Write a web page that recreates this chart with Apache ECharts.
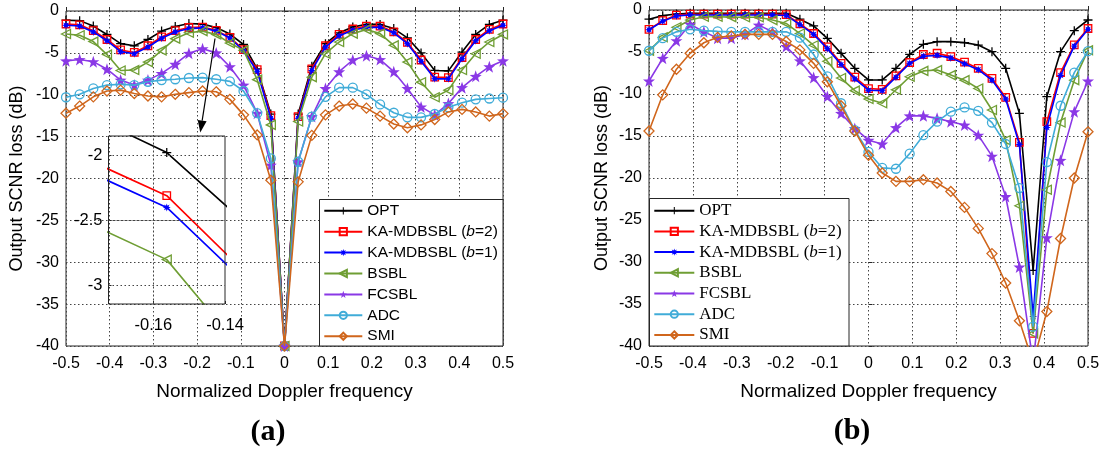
<!DOCTYPE html>
<html><head><meta charset="utf-8">
<script src="https://cdn.jsdelivr.net/npm/echarts@6/dist/echarts.min.js"></script>
<style>html,body{margin:0;padding:0;background:#fff}#c{width:1104px;height:451px}</style>
</head><body><div id="c"></div>
<script>
// ---------------- data ----------------
const freq = [-0.5,-0.46875,-0.4375,-0.40625,-0.375,-0.34375,-0.3125,-0.28125,-0.25,-0.21875,-0.1875,-0.15625,-0.125,-0.09375,-0.0625,-0.03125,0,0.03125,0.0625,0.09375,0.125,0.15625,0.1875,0.21875,0.25,0.28125,0.3125,0.34375,0.375,0.40625,0.4375,0.46875,0.5];
const names = ['OPT','KA-MDBSBL (b=2)','KA-MDBSBL (b=1)','BSBL','FCSBL','ADC','SMI'];

// (a)
const a_OPT   = [-1.1,-1.15,-1.8,-2.8,-3.9,-4.15,-3.4,-2.4,-1.85,-1.5,-1.57,-1.98,-2.75,-4.0,-6.9,-12.3,-40,-12.3,-6.6,-3.9,-2.6,-1.9,-1.6,-1.6,-2.1,-3.2,-5.0,-7.1,-7.15,-4.9,-2.8,-1.6,-1.1];
const a_KA2   = [-1.55,-1.65,-2.35,-3.4,-4.65,-4.95,-4.15,-3.1,-2.35,-1.97,-1.92,-2.31,-3.15,-4.6,-7.0,-12.5,-40,-12.6,-6.9,-4.15,-2.8,-2.15,-1.8,-1.8,-2.5,-3.75,-5.85,-7.9,-7.95,-5.55,-3.4,-2.2,-1.55];
const a_KA1   = [-1.7,-1.8,-2.5,-3.55,-4.85,-5.1,-4.3,-3.25,-2.5,-2.1,-2.01,-2.4,-3.22,-4.75,-7.2,-12.8,-40,-12.8,-7.1,-4.3,-2.95,-2.3,-1.95,-1.95,-2.6,-3.9,-6.0,-8.1,-8.1,-5.7,-3.55,-2.35,-1.7];
const a_BSBL  = [-2.75,-2.9,-3.65,-5.2,-7.1,-7.05,-6.1,-4.7,-3.3,-2.6,-2.4,-2.8,-3.83,-4.7,-8.2,-13.6,-40,-13.2,-7.9,-5.1,-3.7,-2.7,-2.2,-2.7,-4.1,-6.1,-8.5,-10.3,-9.45,-7.05,-5.1,-3.7,-2.8];
const a_FCSBL = [-5.95,-5.8,-6.05,-6.95,-8.25,-8.85,-8.25,-7.45,-6.35,-5.05,-4.5,-5.0,-6.65,-8.85,-12.2,-18.4,-40,-18.0,-12.6,-9.25,-7.25,-5.85,-5.35,-5.8,-7.25,-9.25,-11.45,-12.4,-11.05,-9.15,-7.8,-6.65,-5.95];
const a_ADC   = [-10.3,-9.95,-9.25,-8.85,-8.75,-8.85,-8.45,-8.25,-8.15,-8.0,-7.95,-8.15,-8.4,-9.55,-12.2,-17.6,-40,-18.0,-12.6,-10.25,-9.15,-9.15,-9.95,-11.15,-12.15,-12.7,-12.7,-12.3,-11.5,-10.95,-10.55,-10.45,-10.35];
const a_SMI   = [-12.2,-11.35,-10.25,-9.55,-9.45,-9.85,-10.15,-10.25,-9.95,-9.75,-9.55,-9.65,-10.55,-12.4,-14.8,-20.2,-40,-20.4,-14.85,-12.4,-11.35,-11.1,-11.6,-12.55,-13.5,-13.95,-13.6,-12.95,-12.05,-11.75,-12.05,-12.55,-12.25];

// (b)
const b_OPT   = [-1.1,-0.67,-0.48,-0.4,-0.4,-0.4,-0.4,-0.4,-0.4,-0.4,-0.4,-1.1,-1.9,-3.37,-5.16,-6.94,-8.33,-8.33,-6.94,-5.28,-4.09,-3.77,-3.77,-3.88,-4.17,-4.96,-6.94,-12.3,-31,-10.3,-4.96,-2.46,-1.19];
const b_KA2   = [-2.3,-1.27,-0.6,-0.5,-0.5,-0.5,-0.5,-0.5,-0.5,-0.5,-0.55,-1.65,-2.8,-4.4,-6.35,-8.0,-9.35,-9.45,-7.85,-6.25,-5.3,-5.15,-5.55,-6.2,-6.95,-8.15,-10.4,-15.75,-38.5,-13.3,-7.45,-4.15,-2.2];
const b_KA1   = [-2.35,-1.35,-0.7,-0.6,-0.6,-0.6,-0.6,-0.6,-0.6,-0.6,-0.65,-1.75,-2.9,-4.6,-6.5,-8.2,-9.55,-9.6,-8.0,-6.35,-5.5,-5.4,-5.7,-6.4,-7.1,-8.35,-10.6,-16.0,-36.5,-14.0,-7.8,-4.3,-2.3];
const b_BSBL  = [-4.85,-3.25,-2.05,-1.2,-0.8,-0.8,-0.85,-0.87,-0.87,-1.2,-1.6,-2.8,-4.2,-6.1,-8.1,-9.6,-10.6,-11.1,-9.5,-7.95,-7.25,-7.15,-7.75,-8.35,-9.35,-11.9,-15.5,-23.3,-38.5,-21.4,-13.4,-8.35,-4.8];
const b_FCSBL = [-8.45,-5.75,-3.65,-1.7,-2.6,-3.35,-3.35,-2.9,-1.8,-2.6,-4.35,-6.05,-8.05,-10.3,-12.3,-14.1,-15.5,-15.95,-14.0,-12.6,-12.6,-12.9,-13.3,-13.7,-14.9,-17.4,-22.2,-30.6,-42,-27.1,-17.9,-12.1,-8.45];
const b_ADC   = [-4.85,-3.35,-2.6,-2.3,-2.45,-2.55,-2.6,-2.6,-2.6,-2.6,-2.6,-3.3,-5.3,-7.9,-11.1,-14.3,-16.9,-18.8,-18.9,-17.1,-14.9,-13.3,-12.1,-11.6,-12.0,-13.4,-15.95,-21.2,-37.7,-18.1,-11.4,-7.45,-4.9];
const b_SMI   = [-14.4,-10.1,-7.05,-5.15,-3.9,-3.25,-3.1,-2.9,-2.9,-2.9,-3.75,-4.75,-6.35,-8.55,-11.4,-14.4,-17.3,-19.4,-20.4,-20.4,-20.2,-20.6,-21.6,-23.5,-26.0,-29.0,-32.5,-37.0,-42,-35.9,-27.2,-20.0,-14.5];

const insetXTicks = [-0.16,-0.14];
const insetYTicks = [-3,-2.5,-2];

// ---------------- styles ----------------
function starPath(n, rOut, rIn){
  let p = [];
  for (let k=0;k<2*n;k++){
    const ang = -Math.PI/2 + k*Math.PI/n;
    const r = (k%2===0)?rOut:rIn;
    p.push((5+r*Math.cos(ang)).toFixed(3)+','+(5+r*Math.sin(ang)).toFixed(3));
  }
  return 'path://M'+p.join('L')+'Z';
}
const SYM_PLUS = 'path://M4.3,0H5.7V4.3H10V5.7H5.7V10H4.3V5.7H0V4.3H4.3Z';
const SYM_AST = starPath(8,5,2.4);
const SYM_STAR = starPath(5,5,2.0);
const SYM_TRI_L = 'path://M0,5L9,0L9,10Z';

const styles = [
  {color:'#000000', symbol:SYM_PLUS, size:9, hollow:false},
  {color:'#ff0000', symbol:'rect', size:7.5, hollow:true},
  {color:'#0000ff', symbol:SYM_AST, size:8, hollow:false},
  {color:'#6f9e34', symbol:SYM_TRI_L, size:9, hollow:true},
  {color:'#8a38e6', symbol:SYM_STAR, size:12, hollow:false},
  {color:'#40acd8', symbol:'circle', size:9, hollow:true},
  {color:'#d0661c', symbol:'diamond', size:10, hollow:true}
];

const aData = [a_OPT,a_KA2,a_KA1,a_BSBL,a_FCSBL,a_ADC,a_SMI];
const bData = [b_OPT,b_KA2,b_KA1,b_BSBL,b_FCSBL,b_ADC,b_SMI];

function mk(k, vals, axisIdx){
  const s = styles[k];
  return {
    name: names[k], type:'line', xAxisIndex:axisIdx, yAxisIndex:axisIdx,
    data: freq.map((f,i)=>[f, vals[i]]),
    symbol: s.symbol, symbolSize: s.size, showSymbol:true, showAllSymbol:true,
    lineStyle:{color:s.color, width:1.6},
    itemStyle: s.hollow ? {color:'rgba(255,255,255,0)', borderColor:s.color, borderWidth:1.3}
                        : {color:s.color, borderWidth:0},
    clip:true, animation:false, silent:true, z: 2+k*0.1,
    emphasis:{disabled:true}
  };
}

const series = [];
aData.forEach((v,k)=>series.push(mk(k,v,0)));
bData.forEach((v,k)=>series.push(mk(k,v,1)));
for (let k=0;k<4;k++) series.push(mk(k,aData[k],2));
// inset grid lines drawn in data coordinates
series.push({
  type:'line', xAxisIndex:2, yAxisIndex:2, data:[], silent:true, animation:false,
  markLine:{silent:true, symbol:'none', label:{show:false}, animation:false,
    lineStyle:{type:[1.5,2.5], color:'#444', width:1},
    data: insetYTicks.map(v=>({yAxis:v})).concat(insetXTicks.slice(0,1).map(v=>({xAxis:v})))}
});

const SANS = 'Liberation Sans';
const SERIF = 'Liberation Serif';
const gridLine = {show:true, lineStyle:{type:[1.5,2.5], color:'#444', width:1}};
const fmt1 = v => { const r = Math.round(v*10)/10; return r===0 ? '0' : String(r); };

function xAx(gi, name){
  return {type:'value', gridIndex:gi, min:-0.5, max:0.5, interval:0.1,
    axisLine:{show:false}, axisTick:{show:true, inside:true, length:4, lineStyle:{color:'#262626'}},
    axisLabel:{color:'#000', fontSize:16, fontFamily:SANS, margin:10, formatter:fmt1},
    splitLine:gridLine,
    name:name, nameLocation:'middle', nameGap:36,
    nameTextStyle:{fontSize:19, fontFamily:SANS, color:'#000'}};
}
function yAx(gi, name, gap){
  return {type:'value', gridIndex:gi, min:-40, max:0, interval:5,
    axisLine:{show:false}, axisTick:{show:true, inside:true, length:4, lineStyle:{color:'#262626'}},
    axisLabel:{color:'#000', fontSize:16, fontFamily:SANS, margin:7},
    splitLine:gridLine,
    name:name, nameLocation:'middle', nameGap:gap,
    nameTextStyle:{fontSize:18, fontFamily:SANS, color:'#000'}};
}

const legendFmt = n => n.replace(/\(b=(\d)\)/, '({i|b}=$1)');

const option = {
  backgroundColor:'#fff',
  animation:false,
  grid:[
    {left:66, right:601, top:11, bottom:105, show:true, borderColor:'#262626', borderWidth:1, backgroundColor:'rgba(0,0,0,0)'},
    {left:649, right:16, top:10, bottom:105, show:true, borderColor:'#262626', borderWidth:1, backgroundColor:'rgba(0,0,0,0)'},
    {left:108.5, top:136, width:116.5, height:168, show:true, borderColor:'#262626', borderWidth:1, backgroundColor:'rgba(0,0,0,0)', z:3}
  ],
  xAxis:[
    xAx(0,'Normalized Doppler frequency'),
    xAx(1,'Normalized Doppler frequency'),
    {type:'value', gridIndex:2, min:-0.1725, max:-0.14, axisLine:{show:false},
     axisTick:{show:true, inside:true, length:3, customValues:insetXTicks, lineStyle:{color:'#262626'}},
     axisLabel:{color:'#000', fontSize:16.5, fontFamily:SANS, margin:13, customValues:insetXTicks, formatter:v=>v.toFixed(2)},
     splitLine:{show:false}}
  ],
  yAxis:[
    yAx(0,'Output SCNR loss (dB)',40),
    yAx(1,'Output SCNR loss (dB)',38),
    {type:'value', gridIndex:2, min:-3.14, max:-1.853, axisLine:{show:false},
     axisTick:{show:true, inside:true, length:3, customValues:insetYTicks, lineStyle:{color:'#262626'}},
     axisLabel:{color:'#000', fontSize:16.5, fontFamily:SANS, margin:6, customValues:insetYTicks, formatter:v=>String(v)},
     splitLine:{show:false}}
  ],
  legend:[
    {data:names, orient:'vertical', left:323.3, top:202.8, padding:0, itemWidth:38, itemHeight:9, itemGap:4.9,
     selectedMode:false, z:20, formatter:legendFmt,
     textStyle:{fontSize:15.5, fontFamily:SANS, color:'#000', lineHeight:14,
       rich:{i:{fontStyle:'italic', fontSize:15.5, fontFamily:SANS, color:'#000', lineHeight:14}}}},
    {data:names, orient:'vertical', left:653.3, top:202.2, padding:0, itemWidth:40, itemHeight:9, itemGap:3.7,
     selectedMode:false, z:20, formatter:legendFmt,
     textStyle:{fontSize:17, fontFamily:SERIF, color:'#000', lineHeight:14,
       rich:{i:{fontStyle:'italic', fontSize:17, fontFamily:SERIF, color:'#000', lineHeight:14}}}}
  ],
  series: series
};

const chart = echarts.init(document.getElementById('c'), null, {renderer:'canvas'});
chart.setOption(option);

// annotation arrow (anchored in data coordinates of plot a)
const p0 = chart.convertToPixel({gridIndex:0}, [-0.159, -3.28]);
const p1 = chart.convertToPixel({gridIndex:0}, [-0.1927, -14.5]);
const dx = p1[0]-p0[0], dy = p1[1]-p0[1], L = Math.hypot(dx,dy);
const ux = dx/L, uy = dy/L, hl = 12, hw = 4.5;
const base = [p1[0]-ux*hl, p1[1]-uy*hl];
const arrowHead = [[p1[0],p1[1]],[base[0]-uy*hw, base[1]+ux*hw],[base[0]+uy*hw, base[1]-ux*hw]];

chart.setOption({
  graphic:[
    {type:'rect', shape:{x:319.5, y:199.5, width:183.5, height:146.5}, style:{fill:'#fff', stroke:'#262626', lineWidth:1}, z:15},
    {type:'rect', shape:{x:649.5, y:198.5, width:199.5, height:147.5}, style:{fill:'#fff', stroke:'#262626', lineWidth:1}, z:15},
    {type:'line', shape:{x1:p0[0], y1:p0[1], x2:base[0], y2:base[1]}, style:{stroke:'#000', lineWidth:1.2}, z:30},
    {type:'polygon', shape:{points:arrowHead}, style:{fill:'#000'}, z:30},
    {type:'text', x:268, y:432, style:{text:'(a)', fontSize:30, fontWeight:'bold', fontFamily:SERIF, fill:'#000', align:'center', verticalAlign:'middle'}, z:30},
    {type:'text', x:852, y:431, style:{text:'(b)', fontSize:30, fontWeight:'bold', fontFamily:SERIF, fill:'#000', align:'center', verticalAlign:'middle'}, z:30}
  ]
});
</script></body></html>
